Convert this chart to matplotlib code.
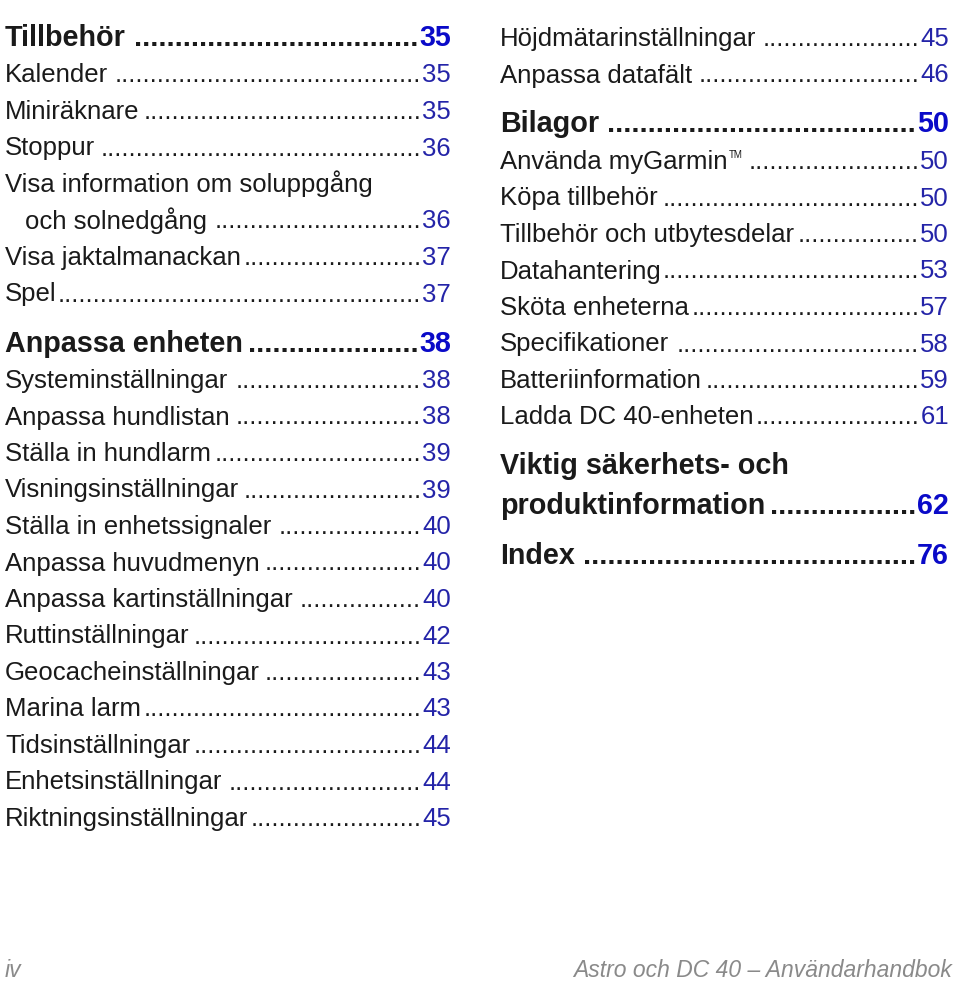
import matplotlib
matplotlib.use("Agg")
import matplotlib.pyplot as plt


left_titles = [
    "Tillbehör", "Kalender", "Miniräknare", "Stoppur",
    "Visa information om soluppgång\noch solnedgång",
    "Visa jaktalmanackan", "Spel",
    "Anpassa enheten", "Systeminställningar", "Anpassa hundlistan",
    "Ställa in hundlarm", "Visningsinställningar", "Ställa in enhetssignaler",
    "Anpassa huvudmenyn", "Anpassa kartinställningar", "Ruttinställningar",
    "Geocacheinställningar", "Marina larm", "Tidsinställningar",
    "Enhetsinställningar", "Riktningsinställningar",
]
left_pages = [35, 35, 35, 36, 36, 37, 37, 38, 38, 38, 39, 39, 40, 40, 40,
              42, 43, 43, 44, 44, 45]
left_heading = [True, False, False, False, False, False, False,
                True, False, False, False, False, False, False, False,
                False, False, False, False, False, False]

right_titles = [
    "Höjdmätarinställningar", "Anpassa datafält",
    "Bilagor", "Använda myGarmin™", "Köpa tillbehör",
    "Tillbehör och utbytesdelar", "Datahantering", "Sköta enheterna",
    "Specifikationer", "Batteriinformation", "Ladda DC 40-enheten",
    "Viktig säkerhets- och\nproduktinformation", "Index",
]
right_pages = [45, 46, 50, 50, 50, 50, 53, 57, 58, 59, 61, 62, 76]
right_heading = [False, False, True, False, False, False, False, False,
                 False, False, False, True, True]

footer_left = "iv"
footer_right = "Astro och DC 40 – Användarhandbok"

W, H = 960, 984
STEP = 36.5
HEAD_GAP = 13.5
BOLD_WRAP = 40

FONT = "Liberation Sans"
TEXT_COLOR = "#1a1a1a"
NUM_COLOR = "#2424a8"
HEAD_NUM_COLOR = "#0a0ac8"

fig = plt.figure(figsize=(W / 100, H / 100), dpi=100)
ax = fig.add_axes([0, 0, 1, 1])
ax.set_xlim(0, W)
ax.set_ylim(H, 0)
ax.axis("off")
renderer = fig.canvas.get_renderer()


def width(t):
    return t.get_window_extent(renderer).width


def draw_column(titles, pages, heading, x0, x1, y_start):
    y = y_start
    for i, (title, page, bold) in enumerate(zip(titles, pages, heading)):
        if i > 0:
            y += STEP
            if bold:
                y += HEAD_GAP
        if bold:
            font = dict(family=FONT, fontsize=20.7, fontweight="bold")
            ncolor = HEAD_NUM_COLOR
            wrap_step, indent = BOLD_WRAP, 0
        else:
            font = dict(family=FONT, fontsize=18.5)
            ncolor = NUM_COLOR
            wrap_step, indent = STEP, 20
        lines = title.split("\n")
        for j, line in enumerate(lines):
            if j > 0:
                y += wrap_step
            lx = x0 + (indent if j > 0 else 0)
            tm = line.endswith("™")
            t = ax.text(lx, y + 9, line.rstrip("™"), color=TEXT_COLOR,
                        va="baseline", ha="left", **font)
            label_end = lx + width(t)
            if tm:
                s = ax.text(label_end + 1, y - 2, "TM", color=TEXT_COLOR,
                            va="baseline", ha="left", family=FONT,
                            fontsize=7)
                label_end += width(s) + 5
        label_end += 1
        num = ax.text(x1, y + 9, str(page), color=ncolor, va="baseline",
                      ha="right", **font)
        num_start = x1 - width(num)
        dot = ax.text(0, 0, "..........", **font)
        dot_w = width(dot) / 10
        dot.remove()
        n = int((num_start - 1 - label_end) / dot_w)
        if n > 0:
            ax.text(num_start - 1, y + 9, "." * n, color=TEXT_COLOR,
                    va="baseline", ha="right", **font)


draw_column(left_titles, left_pages, left_heading, 5, 451, 37)
draw_column(right_titles, right_pages, right_heading, 500, 949, 37)

ax.text(5, 977, footer_left, color="#8a8a8a", family=FONT, style="italic",
        fontsize=16.5, va="baseline", ha="left")
ax.text(952, 977, footer_right, color="#8a8a8a", family=FONT, style="italic",
        fontsize=16.5, va="baseline", ha="right")

fig.savefig("out.png", dpi=100, facecolor="white")
